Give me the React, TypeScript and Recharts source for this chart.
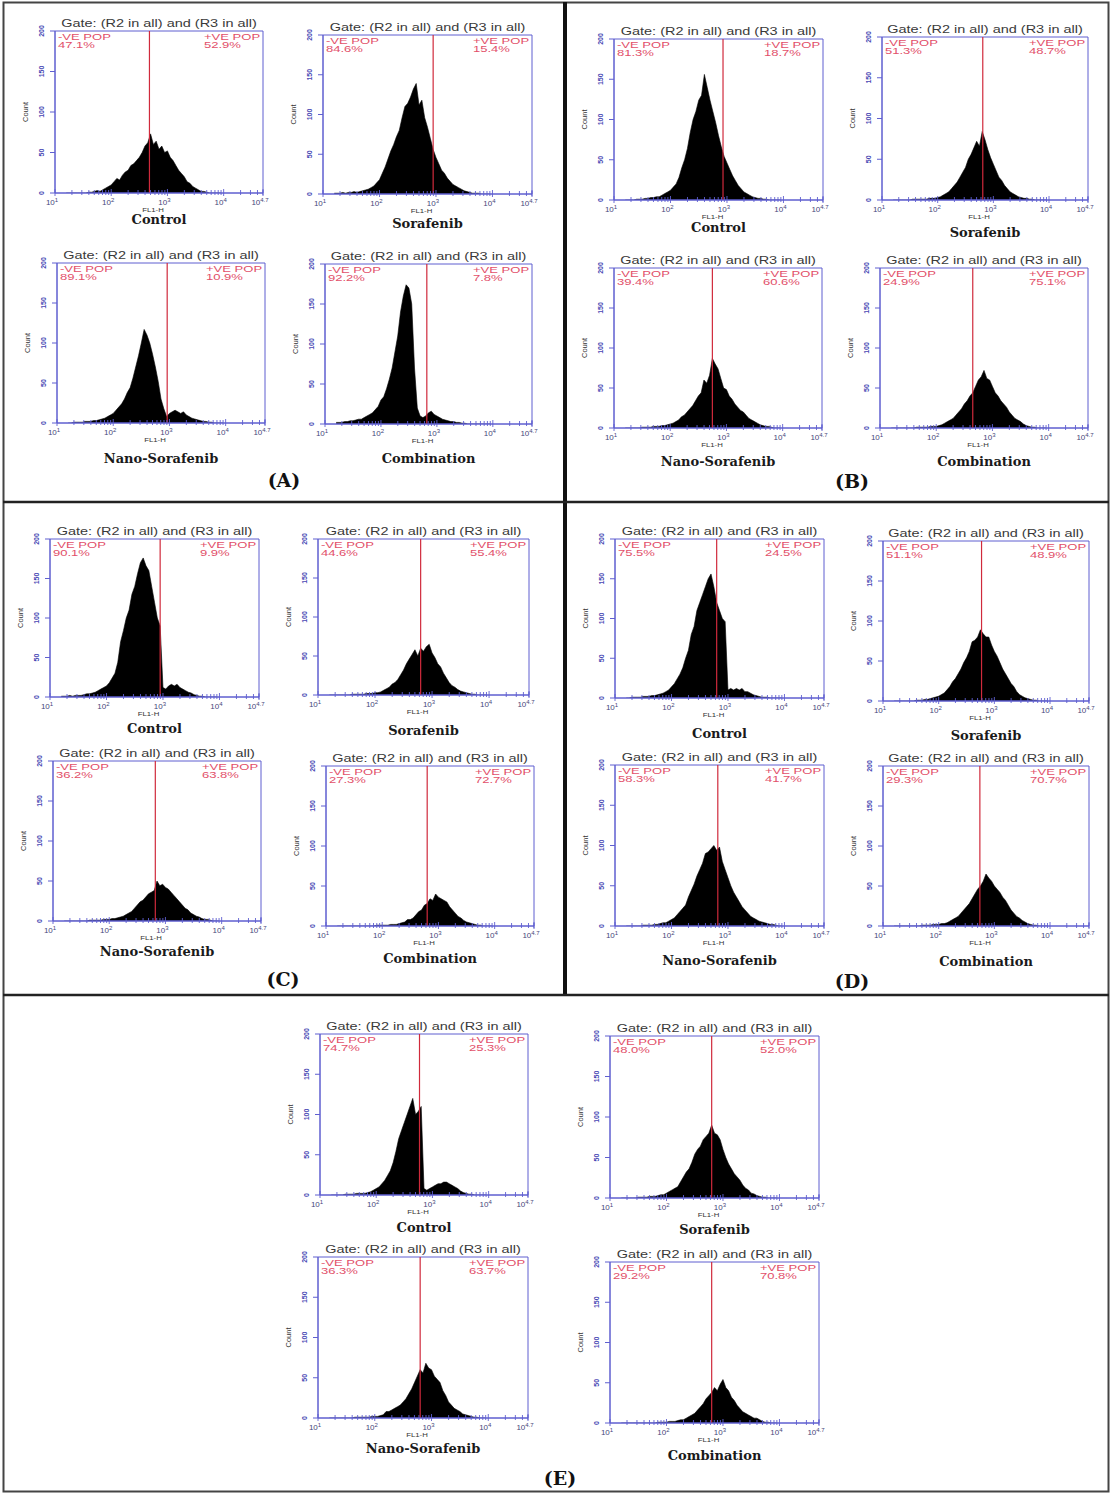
import React from "react";
import { AreaChart, Area, XAxis, YAxis, ReferenceLine, ReferenceArea } from "recharts";

// log10(FL1-H) bin centres
const BINS = [
  1.2, 1.25, 1.3, 1.35, 1.4, 1.45, 1.5, 1.55, 1.6, 1.65,
  1.7, 1.75, 1.8, 1.85, 1.9, 1.95, 2.0, 2.05, 2.1, 2.15,
  2.2, 2.25, 2.3, 2.35, 2.4, 2.45, 2.5, 2.55, 2.6, 2.65,
  2.7, 2.75, 2.8, 2.85, 2.9, 2.95, 3.0, 3.05, 3.1, 3.15,
  3.2, 3.25, 3.3, 3.35, 3.4, 3.45, 3.5, 3.55, 3.6, 3.65,
  3.7, 3.75, 3.8, 3.85, 3.9, 3.95,
];

// counts per bin
const A_CONTROL = [
  0, 0, 0, 0, 0, 0, 0, 0, 1, 1,
  2, 3, 2, 4, 6, 8, 10, 14, 18, 16,
  22, 26, 28, 34, 36, 40, 44, 50, 58, 62,
  73, 60, 64, 54, 58, 50, 52, 44, 40, 34,
  28, 24, 20, 14, 12, 8, 6, 4, 2, 2,
  1, 0, 0, 0, 0, 0,
];
const A_SORAFENIB = [
  1, 1, 1, 2, 1, 2, 2, 3, 2, 3,
  4, 5, 6, 8, 10, 14, 18, 26, 34, 44,
  54, 62, 72, 80, 96, 110, 114, 122, 132, 139,
  112, 118, 96, 84, 70, 56, 46, 38, 30, 26,
  20, 16, 12, 10, 8, 6, 4, 3, 2, 1,
  1, 1, 0, 0, 0, 0,
];
const A_NANO = [
  0, 0, 1, 1, 1, 1, 2, 2, 2, 3,
  3, 4, 5, 6, 8, 10, 12, 16, 20, 24,
  30, 38, 44, 56, 70, 84, 100, 117, 110, 100,
  86, 70, 52, 30, 18, 8, 12, 14, 16, 14,
  12, 14, 10, 8, 6, 5, 4, 3, 2, 2,
  1, 1, 0, 0, 0, 0,
];
const A_COMBINATION = [
  2, 2, 2, 3, 3, 4, 4, 5, 6, 6,
  8, 10, 12, 14, 18, 22, 30, 34, 44, 56,
  70, 90, 110, 140, 160, 174, 170, 150, 70, 20,
  10, 8, 10, 14, 16, 12, 10, 8, 6, 5,
  4, 3, 3, 2, 2, 1, 1, 0, 0, 0,
  0, 0, 0, 0, 0, 0,
];
const B_CONTROL = [
  0, 0, 0, 0, 1, 1, 1, 2, 2, 3,
  3, 4, 4, 6, 8, 10, 12, 16, 20, 28,
  40, 50, 64, 84, 100, 110, 124, 130, 156, 140,
  124, 110, 96, 80, 66, 54, 46, 38, 30, 24,
  18, 14, 10, 8, 6, 4, 3, 2, 2, 1,
  1, 0, 0, 0, 0, 0,
];
const B_SORAFENIB = [
  0, 0, 0, 0, 0, 0, 0, 1, 1, 1,
  1, 1, 1, 2, 2, 2, 3, 4, 6, 8,
  10, 14, 18, 22, 28, 34, 40, 50, 56, 64,
  72, 66, 84, 74, 62, 52, 44, 36, 28, 24,
  18, 14, 10, 8, 6, 4, 3, 2, 2, 1,
  1, 0, 0, 0, 0, 0,
];
const B_NANO = [
  0, 0, 0, 0, 0, 0, 1, 1, 1, 1,
  2, 2, 2, 3, 3, 4, 5, 6, 8, 10,
  14, 16, 20, 24, 28, 34, 40, 44, 60, 56,
  66, 87, 80, 74, 62, 50, 48, 40, 36, 30,
  26, 22, 20, 16, 12, 10, 8, 6, 4, 3,
  2, 2, 1, 0, 0, 0,
];
const B_COMBINATION = [
  0, 0, 0, 0, 0, 0, 0, 0, 0, 1,
  1, 1, 1, 1, 2, 2, 2, 3, 4, 6,
  8, 10, 12, 16, 20, 24, 30, 34, 40, 44,
  52, 60, 64, 72, 62, 60, 52, 44, 40, 34,
  30, 26, 20, 16, 12, 10, 8, 5, 3, 2,
  1, 1, 0, 0, 0, 0,
];
const C_CONTROL = [
  1, 1, 1, 2, 1, 2, 2, 2, 3, 4,
  4, 5, 6, 8, 10, 12, 14, 18, 24, 30,
  44, 70, 84, 100, 110, 130, 140, 156, 170, 176,
  166, 160, 140, 120, 100, 90, 12, 10, 14, 16,
  14, 16, 12, 10, 8, 6, 5, 3, 2, 1,
  1, 0, 0, 0, 0, 0,
];
const C_SORAFENIB = [
  0, 0, 0, 0, 0, 0, 0, 0, 1, 1,
  1, 1, 1, 2, 2, 2, 3, 3, 4, 6,
  8, 10, 14, 16, 20, 26, 32, 40, 46, 52,
  58, 50, 60, 56, 62, 65, 54, 48, 40, 36,
  28, 22, 16, 12, 10, 7, 5, 4, 3, 2,
  1, 1, 0, 0, 0, 0,
];
const C_NANO = [
  0, 0, 0, 0, 0, 0, 0, 0, 0, 1,
  1, 1, 1, 1, 2, 2, 2, 3, 3, 4,
  5, 6, 8, 10, 12, 16, 20, 24, 26, 30,
  34, 36, 38, 50, 44, 46, 42, 40, 36, 32,
  28, 24, 20, 16, 14, 10, 8, 6, 5, 3,
  2, 2, 1, 0, 0, 0,
];
const C_COMBINATION = [
  0, 0, 0, 0, 0, 0, 0, 0, 0, 0,
  0, 0, 0, 0, 1, 1, 1, 1, 1, 2,
  2, 2, 3, 4, 5, 8, 8, 10, 14, 18,
  20, 26, 28, 34, 32, 40, 36, 34, 32, 30,
  24, 20, 16, 12, 10, 7, 5, 4, 3, 2,
  1, 1, 0, 0, 0, 0,
];
const D_CONTROL = [
  0, 0, 1, 1, 1, 1, 2, 2, 2, 3,
  3, 4, 5, 6, 8, 10, 14, 18, 24, 30,
  38, 50, 60, 80, 90, 110, 120, 130, 140, 150,
  156, 140, 120, 110, 100, 96, 10, 12, 10, 12,
  10, 12, 8, 8, 6, 4, 3, 2, 1, 1,
  1, 0, 0, 0, 0, 0,
];
const D_SORAFENIB = [
  0, 0, 0, 0, 0, 0, 0, 0, 1, 1,
  1, 2, 2, 3, 4, 5, 6, 8, 10, 14,
  18, 24, 28, 34, 40, 48, 54, 62, 74, 76,
  80, 89, 84, 80, 80, 70, 62, 56, 48, 40,
  34, 28, 22, 18, 12, 8, 6, 4, 3, 2,
  1, 1, 0, 0, 0, 0,
];
const D_NANO = [
  0, 0, 0, 0, 0, 0, 1, 1, 1, 1,
  2, 2, 3, 4, 4, 6, 8, 10, 14, 18,
  22, 26, 36, 44, 52, 62, 70, 78, 90, 92,
  96, 100, 94, 98, 80, 70, 60, 50, 42, 36,
  30, 24, 20, 16, 12, 10, 8, 6, 5, 4,
  3, 2, 2, 1, 0, 0,
];
const D_COMBINATION = [
  0, 0, 0, 0, 0, 0, 0, 0, 0, 0,
  1, 1, 1, 1, 2, 2, 2, 3, 3, 4,
  6, 8, 10, 12, 16, 20, 24, 28, 34, 40,
  46, 50, 56, 65, 60, 56, 50, 46, 42, 36,
  32, 26, 20, 16, 12, 10, 7, 5, 3, 2,
  1, 1, 0, 0, 0, 0,
];
const E_CONTROL = [
  0, 0, 0, 0, 0, 1, 1, 1, 1, 2,
  2, 2, 2, 3, 4, 6, 8, 10, 14, 18,
  24, 30, 40, 54, 70, 80, 90, 100, 110, 120,
  100, 104, 110, 8, 6, 8, 10, 12, 14, 14,
  16, 16, 14, 12, 10, 8, 5, 3, 2, 1,
  1, 0, 0, 0, 0, 0,
];
const E_SORAFENIB = [
  0, 0, 0, 0, 0, 0, 1, 1, 1, 1,
  2, 2, 2, 3, 4, 4, 6, 8, 10, 12,
  14, 20, 26, 32, 36, 44, 54, 60, 64, 72,
  76, 80, 90, 80, 78, 72, 60, 50, 42, 36,
  30, 26, 22, 16, 12, 10, 6, 5, 3, 2,
  1, 1, 0, 0, 0, 0,
];
const E_NANO = [
  0, 0, 0, 0, 0, 0, 0, 0, 0, 1,
  1, 1, 1, 1, 1, 2, 2, 2, 3, 4,
  8, 8, 10, 12, 14, 16, 20, 24, 30, 36,
  44, 52, 60, 56, 68, 62, 60, 52, 48, 44,
  34, 28, 20, 16, 12, 10, 8, 5, 4, 3,
  2, 1, 1, 0, 0, 0,
];
const E_COMBINATION = [
  0, 0, 0, 0, 0, 0, 0, 0, 0, 0,
  0, 0, 0, 1, 1, 1, 1, 2, 2, 2,
  3, 4, 4, 6, 8, 10, 12, 16, 20, 24,
  30, 34, 38, 44, 40, 48, 54, 44, 40, 32,
  28, 22, 18, 14, 12, 10, 8, 6, 6, 4,
  2, 1, 1, 0, 0, 0,
];

// gate (log10 FL1-H) and the two populations for each plot, panel A..E, 4 plots each
const GATES = [
  2.68, 2.95, 2.96, 2.82,
  2.93, 2.81, 2.75, 2.65,
  2.95, 2.8, 2.82, 2.8,
  2.8, 2.77, 2.82, 2.74,
  2.77, 2.8, 2.8, 2.8,
];
const NEG_POP = [
  "47.1%", "84.6%", "89.1%", "92.2%",
  "81.3%", "51.3%", "39.4%", "24.9%",
  "90.1%", "44.6%", "36.2%", "27.3%",
  "75.5%", "51.1%", "58.3%", "29.3%",
  "74.7%", "48.0%", "36.3%", "29.2%",
];
const POS_POP = [
  "52.9%", "15.4%", "10.9%", "7.8%",
  "18.7%", "48.7%", "60.6%", "75.1%",
  "9.9%", "55.4%", "63.8%", "72.7%",
  "24.5%", "48.9%", "41.7%", "70.7%",
  "25.3%", "52.0%", "63.7%", "70.8%",
];
const SAMPLE_NAMES = ["Control", "Sorafenib", "Nano-Sorafenib", "Combination"];
const PANEL_LABELS = ["(A)", "(B)", "(C)", "(D)", "(E)"];
const Y_TICKS = [0, 50, 100, 150, 200];
const X_DECADES = [1, 2, 3, 4, 4.7];
const X_DECADE_LABELS = ["1", "2", "3", "4", "4.7"];

const SERIES = [
  A_CONTROL, A_SORAFENIB, A_NANO, A_COMBINATION,
  B_CONTROL, B_SORAFENIB, B_NANO, B_COMBINATION,
  C_CONTROL, C_SORAFENIB, C_NANO, C_COMBINATION,
  D_CONTROL, D_SORAFENIB, D_NANO, D_COMBINATION,
  E_CONTROL, E_SORAFENIB, E_NANO, E_COMBINATION,
];

// plot box: left, top, width, height, baseline of the sample name
const BOXES = [
  [55, 31, 208, 162, 224], [323, 35, 209, 159, 228], [57, 263, 208, 160, 463], [325, 264, 207, 160, 463],
  [614, 39, 209, 161, 232], [882, 37, 206, 163, 237], [614, 268, 208, 160, 466], [880, 268, 208, 160, 466],
  [50, 539, 209, 158, 733], [318, 539, 211, 156, 735], [53, 761, 208, 160, 956], [326, 766, 208, 160, 963],
  [615, 539, 209, 159, 738], [883, 541, 206, 160, 740], [615, 765, 209, 161, 965], [883, 766, 206, 160, 966],
  [320, 1034, 208, 161, 1232], [610, 1036, 209, 162, 1234], [318, 1257, 210, 161, 1453], [610, 1262, 209, 161, 1460],
];
const PANEL_POS = [[284, 487], [852, 488], [283, 986], [852, 988], [560, 1485]];

const BLUE = "#5f5fd0";
const TICK_TXT = "#4848b4";
const RED = "#d02a3c";
const RED_TXT = "#e2506a";
const SANS = "'Liberation Sans', Arial, sans-serif";
const SERIF = "'DejaVu Serif', Georgia, serif";
const ML = 45;
const MR = 12;
const MT = 16;
const MB = 30;

// log axis: decades plus the 2..9 minor ticks
const X_TICKS: number[] = [];
for (let n = 1; n <= 4; n++) {
  for (let k = 1; k <= 9; k++) {
    const v = n + Math.log10(k);
    if (v <= 4.7) X_TICKS.push(v);
  }
}
X_TICKS.push(4.7);

function XTick(props: any) {
  const { x, y, payload } = props;
  const i = X_DECADES.findIndex((d) => Math.abs(d - payload.value) < 1e-6);
  const major = i >= 0;
  return (
    <g>
      <line x1={x} x2={x} y1={y - (major ? 4 : 3)} y2={y + (major ? 3 : 2)} stroke={BLUE} strokeWidth={0.9} />
      {major && (
        <text x={x - 3} y={y + 12} textAnchor="middle" fontFamily={SANS} fontSize={8} fill="#46467a">
          10<tspan dy={-3} fontSize={6}>{X_DECADE_LABELS[i]}</tspan>
        </text>
      )}
    </g>
  );
}

function YTick(props: any) {
  const { x, y, payload } = props;
  return (
    <text transform={`translate(${x - 1},${y}) rotate(-90)`} textAnchor="middle" fontFamily={SANS} fontSize={7} fontWeight="bold" fill={TICK_TXT}>
      {String(payload.value)}
    </text>
  );
}

function Histo({ idx }: { idx: number }) {
  const [bx, by, w, h, nb] = BOXES[idx];
  const values = SERIES[idx];
  const data = BINS.map((b, i) => ({ fl: b, count: values[i] }));
  const posX = ML + w - 3 - 56;
  const svgH = nb - (by - MT) + 8;
  return (
    <div style={{ position: "absolute", left: bx - ML, top: by - MT }}>
      <AreaChart width={w + ML + MR} height={h + MT + MB} data={data} margin={{ top: MT, right: MR, bottom: 0, left: 0 }}>
        <XAxis
          dataKey="fl"
          type="number"
          domain={[1, 4.7]}
          ticks={X_TICKS}
          interval={0}
          tick={<XTick />}
          tickLine={false}
          tickSize={0}
          tickMargin={0}
          height={MB}
          axisLine={{ stroke: BLUE }}
          allowDataOverflow
        />
        <YAxis
          type="number"
          domain={[0, 200]}
          ticks={Y_TICKS}
          interval={0}
          width={ML}
          tick={<YTick />}
          tickSize={5}
          tickMargin={5}
          tickLine={{ stroke: BLUE }}
          axisLine={{ stroke: BLUE }}
          allowDataOverflow
        />
        <Area
          type="linear"
          dataKey="count"
          stroke="#000"
          strokeWidth={0.6}
          fill="#000"
          fillOpacity={1}
          dot={false}
          activeDot={false}
          isAnimationActive={false}
        />
        <ReferenceArea x1={1} x2={4.7} y1={0} y2={200} fill="none" fillOpacity={0} stroke={BLUE} strokeWidth={1} />
        <ReferenceLine x={GATES[idx]} stroke={RED} strokeWidth={1.2} />
      </AreaChart>
      <svg
        width={w + ML + MR}
        height={svgH}
        style={{ position: "absolute", left: 0, top: 0, overflow: "visible", pointerEvents: "none" }}
      >
        <text transform={`translate(${ML + w / 2},${MT - 4}) scale(1.45,1)`} textAnchor="middle" fontFamily={SANS} fontSize={10} fill="#3a3a3a">
          Gate: (R2 in all) and (R3 in all)
        </text>
        <text transform={`translate(${ML + 3},${MT + 9}) scale(1.45,1)`} fontFamily={SANS} fontSize={9} fill={RED_TXT}>
          -VE POP
        </text>
        <text transform={`translate(${ML + 3},${MT + 17}) scale(1.45,1)`} fontFamily={SANS} fontSize={9} fill={RED_TXT}>
          {NEG_POP[idx]}
        </text>
        <text transform={`translate(${posX},${MT + 9}) scale(1.45,1)`} fontFamily={SANS} fontSize={9} fill={RED_TXT}>
          +VE POP
        </text>
        <text transform={`translate(${posX},${MT + 17}) scale(1.45,1)`} fontFamily={SANS} fontSize={9} fill={RED_TXT}>
          {POS_POP[idx]}
        </text>
        <text transform={`translate(${ML - 27},${MT + h / 2}) rotate(-90)`} textAnchor="middle" fontFamily={SANS} fontSize={7.5} fill="#333">
          Count
        </text>
        <text transform={`translate(${ML + w / 2 - 6},${MT + h + 19}) scale(1.3,1)`} textAnchor="middle" fontFamily={SANS} fontSize={6} fill="#333">
          FL1-H
        </text>
        <text x={ML + w / 2} y={nb - (by - MT)} textAnchor="middle" fontFamily={SERIF} fontWeight="bold" fontSize={13} fill="#1a1a1a">
          {SAMPLE_NAMES[idx % 4]}
        </text>
      </svg>
    </div>
  );
}

export default function App() {
  return (
    <div style={{ position: "absolute", left: 0, top: 0, width: 1111, height: 1495, background: "#fff", overflow: "hidden" }}>
      <svg width={1111} height={1495} style={{ position: "absolute", left: 0, top: 0 }}>
        <rect x={3.5} y={2.5} width={1105} height={1489} fill="none" stroke="#444" strokeWidth={2} />
        <line x1={565} x2={565} y1={2} y2={996} stroke="#111" strokeWidth={4} />
        <line x1={3} x2={1109} y1={502} y2={502} stroke="#222" strokeWidth={2.5} />
        <line x1={3} x2={1109} y1={995} y2={995} stroke="#222" strokeWidth={2.5} />
        {PANEL_LABELS.map((lab, i) => (
          <text key={lab} x={PANEL_POS[i][0]} y={PANEL_POS[i][1]} textAnchor="middle" fontFamily={SERIF} fontWeight="bold" fontSize={19} fill="#111">
            {lab}
          </text>
        ))}
      </svg>
      {SERIES.map((_, i) => (
        <Histo key={i} idx={i} />
      ))}
    </div>
  );
}
